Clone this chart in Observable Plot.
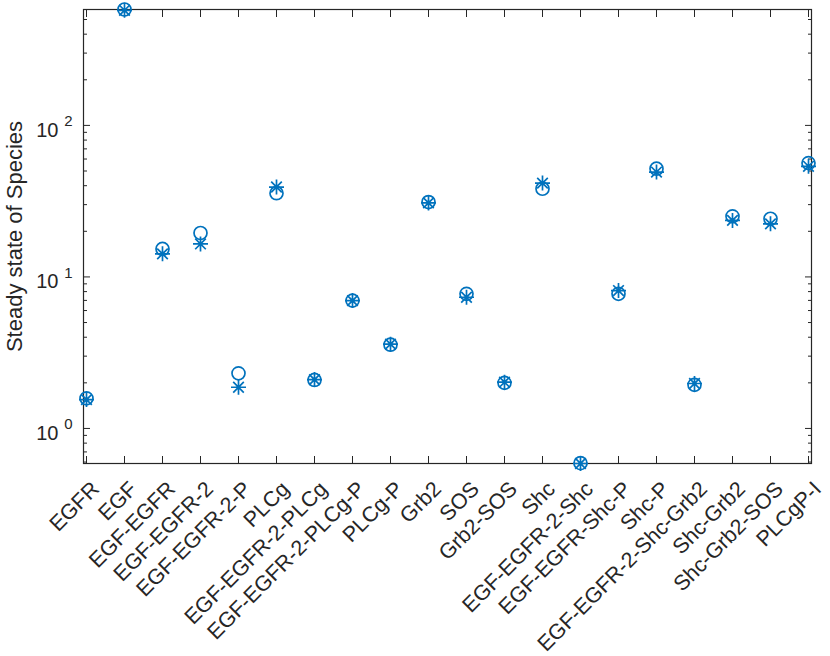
<!DOCTYPE html>
<html><head><meta charset="utf-8">
<script src="https://cdn.jsdelivr.net/npm/d3@7"></script>
<script src="https://cdn.jsdelivr.net/npm/@observablehq/plot@0.6"></script>
<style>body{margin:0;background:#fff}</style>
</head><body><div id="chart"></div>
<script>
const species = ["EGFR","EGF","EGF-EGFR","EGF-EGFR-2","EGF-EGFR-2-P","PLCg","EGF-EGFR-2-PLCg","EGF-EGFR-2-PLCg-P","PLCg-P","Grb2","SOS","Grb2-SOS","Shc","EGF-EGFR-2-Shc","EGF-EGFR-Shc-P","Shc-P","EGF-EGFR-2-Shc-Grb2","Shc-Grb2","Shc-Grb2-SOS","PLCgP-I"];
const circleValues = [1.58, 582, 15.3, 19.5, 2.31, 35.7, 2.09, 6.98, 3.57, 31.2, 7.73, 2.0, 38.2, 0.59, 7.73, 51.8, 1.94, 25.1, 24.2, 56.4];
const asteriskValues = [1.55, 575, 14.2, 16.5, 1.87, 39.2, 2.1, 6.98, 3.6, 30.8, 7.34, 2.02, 41.6, 0.587, 8.13, 49.2, 1.98, 23.6, 22.4, 53.7];
const majorTicks = [1, 10, 100];
const tickExponents = ["0", "1", "2"];
const minorTicks = [0.6,0.7,0.8,0.9,2,3,4,5,6,7,8,9,20,30,40,50,60,70,80,90,200,300,400,500];
const yLabel = "Steady state of Species";

const blue = "#0072BD";
const ink = "#262626";
const font = "'Liberation Sans', Arial, Helvetica, sans-serif";

const circles = species.map((s, i) => ({name: s, value: circleValues[i]}));
const asterisks = species.map((s, i) => ({name: s, value: asteriskValues[i]}));
const yDomain = d3.extent([...circleValues, ...asteriskValues]);

const asteriskSymbol = {
  draw(ctx, size) {
    const r = Math.sqrt(size / Math.PI);
    const d = r * Math.SQRT1_2;
    ctx.moveTo(0, -r); ctx.lineTo(0, r);
    ctx.moveTo(-r, 0); ctx.lineTo(r, 0);
    ctx.moveTo(-d, -d); ctx.lineTo(d, d);
    ctx.moveTo(-d, d); ctx.lineTo(d, -d);
  }
};

const chart = Plot.plot({
  width: 830,
  height: 656,
  marginLeft: 83,
  marginRight: 19,
  marginTop: 9,
  marginBottom: 193,
  style: {fontFamily: font, color: ink, background: "#fff"},
  x: {type: "point", domain: species, padding: 0, axis: null},
  y: {type: "log", domain: yDomain, axis: null},
  marks: [
    // inward ticks
    Plot.axisY(majorTicks, {anchor: "left", tickSize: 7, dx: 7, tickFormat: () => "", stroke: ink, label: null}),
    Plot.axisY(minorTicks, {anchor: "left", tickSize: 4, dx: 4, tickFormat: () => "", stroke: ink, label: null}),
    Plot.axisY(majorTicks, {anchor: "right", tickSize: 7, dx: -7, tickFormat: () => "", stroke: ink, label: null}),
    Plot.axisY(minorTicks, {anchor: "right", tickSize: 4, dx: -4, tickFormat: () => "", stroke: ink, label: null}),
    Plot.axisX(species, {anchor: "bottom", tickSize: 7, dy: -7, tickFormat: () => "", stroke: ink, label: null}),
    Plot.axisX(species, {anchor: "top", tickSize: 7, dy: 7, tickFormat: () => "", stroke: ink, label: null}),
    // x tick labels
    Plot.axisX(species, {anchor: "bottom", tickSize: 0, tickPadding: 22, tickRotate: -45, dx: 9, fontSize: 21.5, fill: ink, label: null}),
    // y tick labels 10^k
    Plot.text(majorTicks, {y: d => d, frameAnchor: "left", text: () => "10", textAnchor: "end", dx: -25, dy: 5, fontSize: 20, fill: ink}),
    Plot.text(majorTicks, {y: d => d, frameAnchor: "left", text: (d, i) => tickExponents[i], textAnchor: "end", dx: -11, dy: -4, fontSize: 15, fill: ink}),
    // y label
    Plot.text([yLabel], {frameAnchor: "left", textAnchor: "middle", lineAnchor: "middle", rotate: -90, dx: -69, fontSize: 22, fill: ink}),
    Plot.frame({stroke: ink, strokeWidth: 1.2}),
    // data
    Plot.dot(circles, {x: "name", y: "value", r: 6.5, stroke: blue, strokeWidth: 1.7, fill: "none"}),
    Plot.dot(asterisks, {x: "name", y: "value", r: 7.5, symbol: asteriskSymbol, stroke: blue, strokeWidth: 1.7, fill: "none"})
  ]
});
document.getElementById("chart").appendChild(chart);
</script>
</body></html>
